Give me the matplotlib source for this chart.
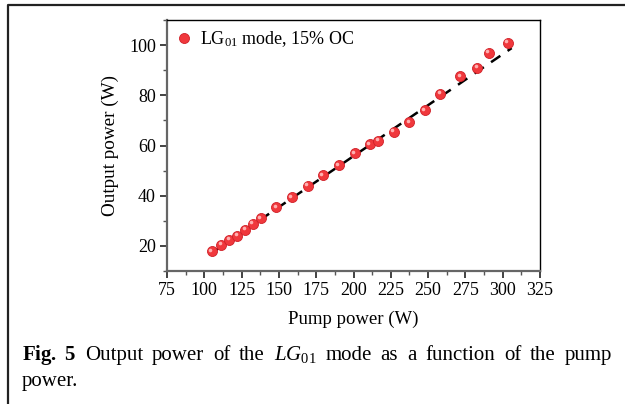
import numpy as np
import matplotlib
matplotlib.use("Agg")
import matplotlib.pyplot as plt
from matplotlib.lines import Line2D
from matplotlib.ticker import MultipleLocator
import matplotlib.transforms as mtransforms

plt.rcParams['font.family'] = ['Liberation Serif', 'DejaVu Serif']
plt.rcParams['mathtext.fontset'] = 'custom'
plt.rcParams['mathtext.rm'] = 'Liberation Serif'
plt.rcParams['mathtext.it'] = 'Liberation Serif:italic'
plt.rcParams['mathtext.bf'] = 'Liberation Serif:bold'

pump_power = [105.2, 111.4, 116.8, 122.1, 127.5, 132.4, 138.0, 148.3, 158.8, 169.3,
              179.4, 190.1, 200.8, 210.9, 216.7, 226.9, 237.4, 247.9, 258.2, 271.6,
              283.0, 290.8, 303.4]
output_power = [17.9, 20.4, 22.5, 24.1, 26.5, 28.8, 31.0, 35.4, 39.4, 43.8,
                48.1, 52.1, 56.9, 60.5, 61.8, 65.5, 69.2, 74.0, 80.5, 87.6,
                90.9, 96.9, 101.0]
fit_x = [104.0, 306.0]
fit_y = [16.8, 98.8]
x_ticks = [75, 100, 125, 150, 175, 200, 225, 250, 275, 300, 325]
y_ticks = [20, 40, 60, 80, 100]
legend_label = r"LG$_{\mathrm{01}}$ mode, 15% OC"
x_label = "Pump power (W)"
y_label = "Output power (W)"

W, H = 625, 404
fig = plt.figure(figsize=(W / 100, H / 100), dpi=100)
ax = fig.add_axes([167 / W, 1 - 271 / H, (540 - 167) / W, (271 - 20) / H])

ax.plot(fit_x, fit_y, color='black', lw=1.8, ls=(0, (4.5, 3.5)), zorder=2)
ax.plot(pump_power, output_power, ls='none', marker='o', ms=7.2,
        mfc='#f0383c', mec='#d02028', mew=0.6, zorder=3)
hl = ax.transData + mtransforms.ScaledTranslation(-1.2 / 72, 1.2 / 72, fig.dpi_scale_trans)
ax.plot(pump_power, output_power, ls='none', marker='o', ms=2.6,
        mfc='#ffb0b0', mec='none', transform=hl, zorder=4)

ax.set_xlim(75, 325)
ax.set_ylim(10, 110)
ax.set_xticks(x_ticks)
ax.set_yticks(y_ticks)
ax.xaxis.set_minor_locator(MultipleLocator(12.5))
ax.yaxis.set_minor_locator(MultipleLocator(10))
ax.tick_params(which='major', direction='out', length=5, width=1.2, labelsize=13,
               colors='#222222', pad=3)
ax.tick_params(which='minor', direction='out', length=3, width=1.0, colors='#555555')
ax.tick_params(axis='both', labelcolor='black')
for s in ['left', 'bottom']:
    ax.spines[s].set_color('#666666')
    ax.spines[s].set_linewidth(1.6)
for s in ['top', 'right']:
    ax.spines[s].set_color('black')
    ax.spines[s].set_linewidth(1.0)

ax.set_xlabel(x_label, fontsize=13.5, labelpad=8)
ax.set_ylabel(y_label, fontsize=13.8, labelpad=7)

# legend
leg_marker = Line2D([], [], ls='none', marker='o', ms=7.2, mfc='#f0383c', mec='#d02028', mew=0.6)
leg = ax.legend([leg_marker], [legend_label], loc='upper left', frameon=False,
                fontsize=13, handletextpad=0.4, borderaxespad=0.0, borderpad=0.2,
                bbox_to_anchor=(0.012, 0.978), handlelength=1.0)

# figure border (top and left)
fig.add_artist(Line2D([8 / W, 8 / W, 1.0], [0.0, 1 - 5 / H, 1 - 5 / H],
                      transform=fig.transFigure, color='#222222', lw=1.6))

# caption, justified first line
line1 = [r"$\mathbf{Fig.\ 5}$", "Output", "power", "of", "the",
         r"$\mathit{LG}_{\mathit{01}}$", "mode", "as", "a", "function", "of", "the", "pump"]
x0, x1 = 22, 612
y1 = 1 - 360 / H
texts = []
for w in line1:
    t = fig.text(0, y1, w, fontsize=15, va='baseline', ha='left')
    texts.append(t)
fig.canvas.draw()
r = fig.canvas.get_renderer()
widths = [t.get_window_extent(r).width for t in texts]
gap = ((x1 - x0) - sum(widths)) / (len(texts) - 1)
x = x0
for t, wd in zip(texts, widths):
    t.set_x(x / W)
    x += wd + gap
fig.text(x0 / W, 1 - 386 / H, "power.", fontsize=15, va='baseline', ha='left')

fig.savefig("out.png", dpi=100)
